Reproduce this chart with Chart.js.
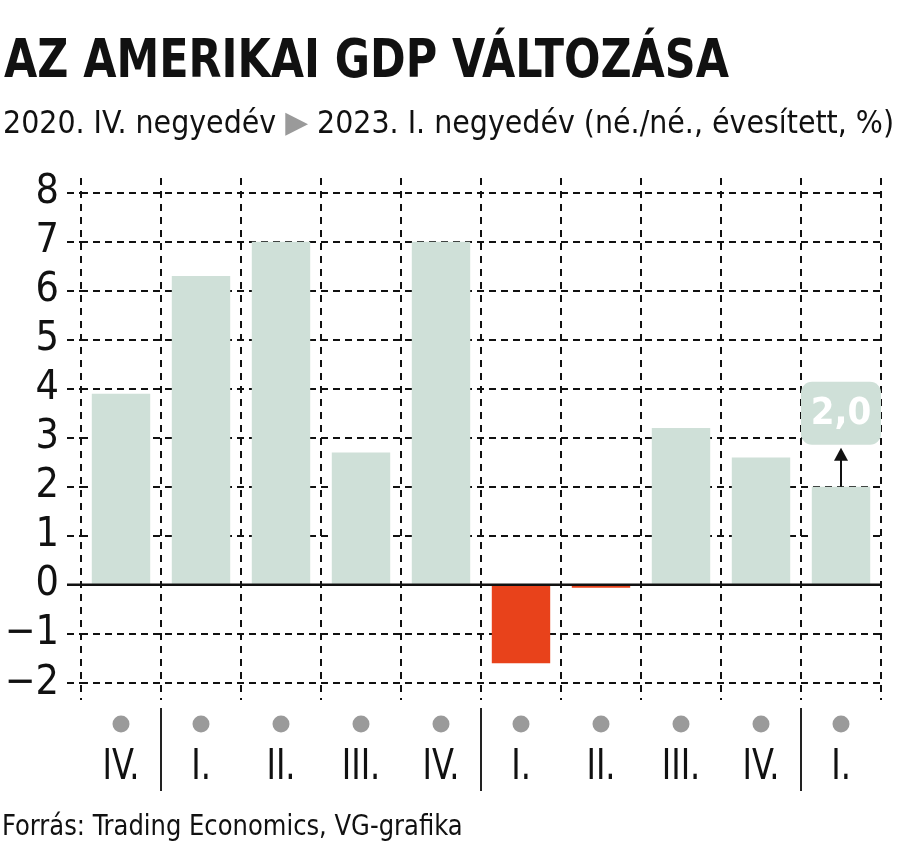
<!DOCTYPE html>
<html>
<head>
<meta charset="utf-8">
<script src="https://cdn.jsdelivr.net/npm/chart.js@4.4.1/dist/chart.umd.min.js"></script>
<style>
  body { margin: 0; background: #fff; }
  #wrap { position: relative; width: 900px; height: 865px; overflow: hidden; }
  #chart1 { position: absolute; left: 0; top: 0; }
  .txt { position: absolute; font-family: 'DejaVu Sans Condensed', 'Liberation Sans Narrow', sans-serif; color: #111; white-space: nowrap; transform-origin: 0 0; }
  #title { left: 4px; top: 28px; font-size: 53px; font-weight: bold; transform: scaleX(0.9); }
  #subtitle { left: 3px; top: 103px; font-size: 32px; transform: scaleX(0.99); }
  #subtitle .arr { color: #9a9a9a; font-family: 'DejaVu Sans', sans-serif; font-size: 30px; vertical-align: 1px; }
  #source { left: 2px; top: 808px; font-size: 29px; transform: scaleX(0.93); }
</style>
</head>
<body>
<div id="wrap">
  <canvas id="chart1" width="900" height="865"></canvas>
  <div class="txt" id="title">AZ AMERIKAI GDP VÁLTOZÁSA</div>
  <div class="txt" id="subtitle">2020. IV. negyedév <span class="arr">▶</span> 2023. I. negyedév (né./né., évesített, %)</div>
  <div class="txt" id="source">Forrás: Trading Economics, VG-grafika</div>
</div>
<script>
var quarters = ['IV.', 'I.', 'II.', 'III.', 'IV.', 'I.', 'II.', 'III.', 'IV.', 'I.'];
var years = [2020, 2021, 2021, 2021, 2021, 2022, 2022, 2022, 2022, 2023];
var gdpChange = [3.9, 6.3, 7.0, 2.7, 7.0, -1.6, -0.06, 3.2, 2.6, 2.0];
var yTicks = [-2, -1, 0, 1, 2, 3, 4, 5, 6, 7, 8];

var green = '#cfe0d8';
var red = '#e8421b';
var fontFam = "'DejaVu Sans Condensed', 'Liberation Sans Narrow', sans-serif";

// dots, quarter labels, year separators, zero line, last value callout
var extras = {
  id: 'extras',
  afterDatasetsDraw: function (chart) {
    var ctx = chart.ctx;
    var x = chart.scales.x;
    var y = chart.scales.y;
    var area = chart.chartArea;
    var y0 = y.getPixelForValue(0);

    ctx.save();
    ctx.strokeStyle = '#111';
    ctx.lineWidth = 2.5;
    ctx.beginPath();
    ctx.moveTo(area.left - 14, y0);
    ctx.lineTo(area.right, y0);
    ctx.stroke();

    // callout on the last bar
    var last = gdpChange.length - 1;
    var cx = x.getPixelForValue(last);
    var half = (x.getPixelForValue(1) - x.getPixelForValue(0)) / 2;
    var top = y.getPixelForValue(gdpChange[last]);
    var boxB = top - 42, boxT = boxB - 63;
    ctx.fillStyle = green;
    ctx.beginPath();
    ctx.roundRect(cx - half, boxT, half * 2, boxB - boxT, 11);
    ctx.fill();
    ctx.fillStyle = '#fff';
    ctx.font = 'bold 38px ' + fontFam;
    ctx.textAlign = 'center';
    ctx.textBaseline = 'middle';
    ctx.fillText(gdpChange[last].toFixed(1).replace('.', ','), cx, (boxT + boxB) / 2 + 1);
    ctx.strokeStyle = '#111';
    ctx.lineWidth = 2;
    ctx.beginPath();
    ctx.moveTo(cx, top);
    ctx.lineTo(cx, boxB + 14);
    ctx.stroke();
    ctx.fillStyle = '#111';
    ctx.beginPath();
    ctx.moveTo(cx, boxB + 3);
    ctx.lineTo(cx - 7, boxB + 16);
    ctx.lineTo(cx + 7, boxB + 16);
    ctx.closePath();
    ctx.fill();
    ctx.restore();
  },
  afterDraw: function (chart) {
    var ctx = chart.ctx;
    var x = chart.scales.x;
    var area = chart.chartArea;
    ctx.save();
    ctx.font = '42px ' + fontFam;
    ctx.textAlign = 'center';
    ctx.textBaseline = 'middle';
    for (var i = 0; i < quarters.length; i++) {
      var px = x.getPixelForValue(i);
      ctx.fillStyle = '#9a9a9a';
      ctx.beginPath();
      ctx.arc(px, area.bottom + 24, 8.5, 0, Math.PI * 2);
      ctx.fill();
      ctx.fillStyle = '#111';
      ctx.save();
      ctx.translate(px, area.bottom + 68);
      ctx.scale(0.85, 1);
      ctx.fillText(quarters[i], 0, 0);
      ctx.restore();
      if (i > 0 && years[i] !== years[i - 1]) {
        var sx = (x.getPixelForValue(i - 1) + px) / 2;
        ctx.strokeStyle = '#222';
        ctx.lineWidth = 2;
        ctx.beginPath();
        ctx.moveTo(sx, area.bottom + 8);
        ctx.lineTo(sx, area.bottom + 91);
        ctx.stroke();
      }
    }
    ctx.restore();
  }
};

var graph = document.getElementById('chart1');

var myChart = new Chart(graph, {
  type: 'bar',
  data: {
    labels: quarters,
    datasets: [{
      data: gdpChange,
      backgroundColor: gdpChange.map(function (v) { return v < 0 ? red : green; }),
      borderWidth: 0,
      barPercentage: 0.73,
      categoryPercentage: 1
    }]
  },
  options: {
    responsive: false,
    animation: false,
    layout: { padding: { top: 178, right: 19, bottom: 165, left: 0 } },
    plugins: {
      legend: { display: false },
      tooltip: { enabled: false },
      title: { display: false }
    },
    scales: {
      x: {
        offset: true,
        ticks: { display: false },
        grid: {
          offset: true,
          drawTicks: false,
          color: '#111',
          lineWidth: 2
        },
        border: { display: false, dash: [7, 6] },
        afterFit: function (s) { s.height = 0; }
      },
      y: {
        min: -2.35,
        max: 8.3,
        afterBuildTicks: function (s) {
          s.ticks = yTicks.map(function (v) { return { value: v }; });
        },
        ticks: {
          color: '#111',
          padding: 8,
          font: { family: fontFam, size: 41 },
          callback: function (v) { return String(v).replace('-', '\u2212'); }
        },
        grid: {
          color: '#111',
          lineWidth: 2,
          tickLength: 14,
          tickBorderDash: [7, 5],
          tickColor: '#111'
        },
        border: { display: false, dash: [7, 5] },
        afterFit: function (s) { s.width = 81; }
      }
    }
  },
  plugins: [extras]
});
</script>
</body>
</html>
